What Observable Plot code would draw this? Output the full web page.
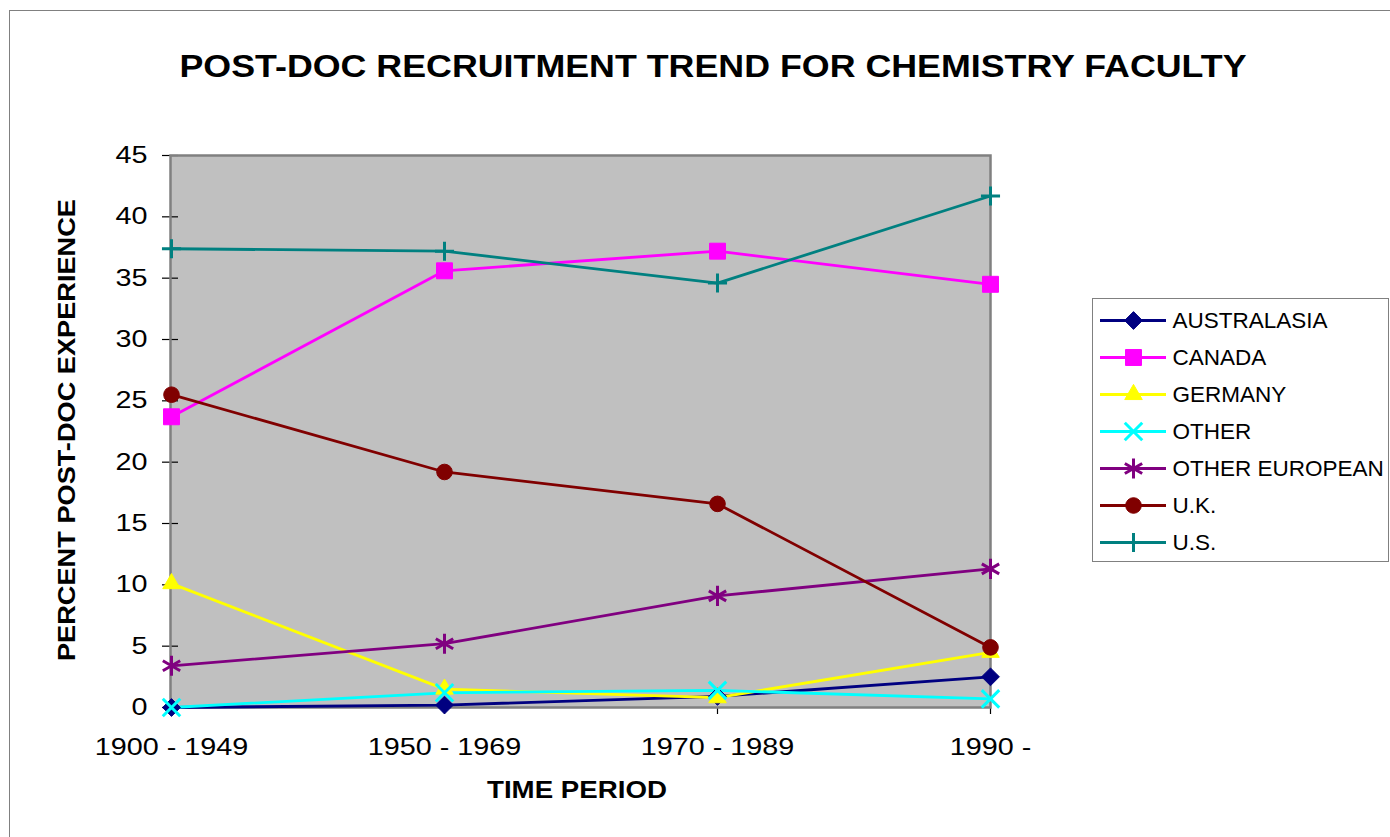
<!DOCTYPE html>
<html><head><meta charset="utf-8">
<script src="https://cdn.jsdelivr.net/npm/d3@7"></script>
<script src="https://cdn.jsdelivr.net/npm/@observablehq/plot@0.6"></script>
<style>
html,body{margin:0;padding:0;background:#fff;overflow:hidden;width:1390px;height:837px}
#root{position:relative;width:1390px;height:837px;font-family:"Liberation Sans",Arial,sans-serif;color:#000}
.abs{position:absolute;white-space:nowrap;line-height:1}
#outer{position:absolute;left:9px;top:10px;width:2000px;height:2000px;border:1.5px solid #808080}
#chart{position:absolute;left:0;top:0}
#legend{position:absolute;left:1092px;top:298px;width:297px;height:264px;border:1.5px solid #808080;box-sizing:border-box;background:#fff}
#legend svg{position:absolute;left:0;top:0}
</style></head><body><div id="root">
<div id="outer"></div>
<div id="chart"></div>
<div id="legend"></div>
<div class="abs" id="title" style="font-weight:bold;font-size:32px">POST-DOC RECRUITMENT TREND FOR CHEMISTRY FACULTY</div>
<div class="abs" id="ytitle" style="font-weight:bold;font-size:24px">PERCENT POST-DOC EXPERIENCE</div>
<div class="abs" id="xtitle" style="font-weight:bold;font-size:24px">TIME PERIOD</div>
</div>
<script>
// ---- data ----
const periods = ["1900 - 1949", "1950 - 1969", "1970 - 1989", "1990 -"];
const seriesNames = ["AUSTRALASIA", "CANADA", "GERMANY", "OTHER", "OTHER EUROPEAN", "U.K.", "U.S."];
const australasia   = [0.0, 0.2, 0.9, 2.5];
const canada        = [23.7, 35.6, 37.2, 34.5];
const germany       = [10.1, 1.5, 0.8, 4.5];
const other         = [0.0, 1.2, 1.4, 0.7];
const otherEuropean = [3.4, 5.2, 9.1, 11.3];
const uk            = [25.5, 19.2, 16.6, 4.9];
const us            = [37.4, 37.2, 34.6, 41.7];
const yTicks = [0, 5, 10, 15, 20, 25, 30, 35, 40, 45];

// ---- styles ----
const seriesColors  = ["#000080", "#FF00FF", "#FFFF00", "#00FFFF", "#800080", "#800000", "#008080"];
const seriesSymbols = ["diamond2", "square", "triangle", "times", "asterisk", "circle", "plus"];
const seriesR       = [8, 9, 6.5, 8, 9.5, 7.8, 6.2];
const seriesFilled  = [true, true, true, false, false, true, false];

const values = [australasia, canada, germany, other, otherEuropean, uk, us];
const rows = seriesNames.flatMap((s, i) => periods.map((p, j) => ({series: s, period: p, value: values[i][j]})));

function dotMarks(dataFor, xOpt, yOpt) {
  return seriesNames.map((s, i) => Plot.dot(dataFor(s), {
    x: xOpt, y: yOpt, symbol: seriesSymbols[i], r: seriesR[i],
    fill: seriesFilled[i] ? seriesColors[i] : "none",
    stroke: seriesColors[i], strokeWidth: seriesFilled[i] ? 1 : 3
  }));
}

const chart = Plot.plot({
  width: 1390, height: 837,
  marginLeft: 170, marginRight: 400, marginTop: 155, marginBottom: 130,
  x: {type: "point", domain: periods, padding: 0},
  y: {domain: [0, 45]},
  color: {domain: seriesNames, range: seriesColors},
  style: {fontFamily: "'Liberation Sans', Arial, sans-serif", fontSize: "23px", background: "transparent", color: "#000", overflow: "visible"},
  marks: [
    Plot.frame({fill: "#C0C0C0"}),
    Plot.axisY(yTicks, {tickSize: 16, dx: 8, tickFormat: () => "", label: null, strokeWidth: 1.2}),
    Plot.axisY(yTicks, {tickSize: 0, tickPadding: 23, label: null, fontSize: 23}),
    Plot.axisX(periods, {tickSize: 7, tickPadding: 24, label: null, fontSize: 23, strokeWidth: 1.2}),
    Plot.frame({stroke: "#808080", strokeWidth: 2.5}),
    Plot.line(rows, {x: "period", y: "value", z: "series", stroke: "series", strokeWidth: 2.8}),
    ...dotMarks(s => rows.filter(d => d.series === s), "period", "value")
  ]
});
document.getElementById("chart").appendChild(chart);

const legend = Plot.plot({
  width: 294, height: 261, margin: 0,
  x: {domain: [0, 294], range: [0, 294], axis: null},
  y: {type: "point", domain: seriesNames, range: [20, 244], padding: 0, axis: null},
  color: {domain: seriesNames, range: seriesColors},
  style: {fontFamily: "'Liberation Sans', Arial, sans-serif", fontSize: "22.5px", background: "transparent", color: "#000", overflow: "visible"},
  marks: [
    Plot.ruleY(seriesNames, {y: d => d, x1: 7, x2: 73, stroke: d => d, strokeWidth: 2.8}),
    ...dotMarks(s => [s], 40, d => d),
    Plot.text(seriesNames, {y: d => d, x: 79, text: d => d, textAnchor: "start", fill: "#000"})
  ]
});
document.getElementById("legend").appendChild(legend);

function stretchSvg(svg, factor) {
  svg.querySelectorAll("text").forEach(t => {
    const len = t.getComputedTextLength();
    if (len > 0) {
      t.setAttribute("textLength", len * factor);
      t.setAttribute("lengthAdjust", "spacingAndGlyphs");
    }
  });
}
stretchSvg(chart, 1.25);
stretchSvg(legend, 1.0);

function fit(id, cx, cy, w, rot) {
  const el = document.getElementById(id);
  const nat = el.getBoundingClientRect().width;
  el.style.left = cx + "px";
  el.style.top = cy + "px";
  el.style.transform = `translate(-50%,-50%) ${rot ? "rotate(-90deg)" : ""} scaleX(${w / nat})`;
}
fit("title", 713, 66, 1067, false);
fit("ytitle", 67, 430, 462, true);
fit("xtitle", 577, 790, 180, false);
</script>
</body></html>
